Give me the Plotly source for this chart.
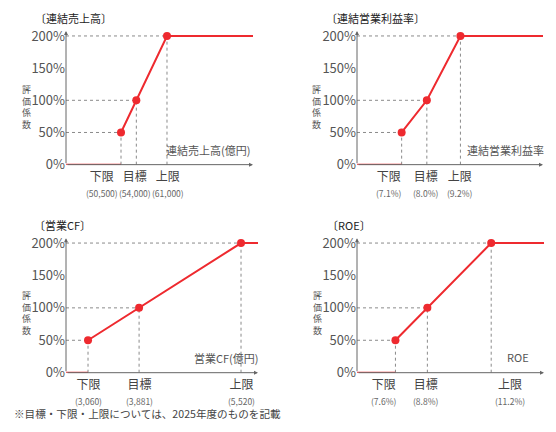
import plotly.graph_objects as go

W, H = 556, 432

# 評価係数 (%)
coef = [50, 100, 200]
tick_names = ["下限", "目標", "上限"]

sales_vals = [50500, 54000, 61000]
sales_text = ["(50,500)", "(54,000)", "(61,000)"]

margin_vals = [7.1, 8.0, 9.2]
margin_text = ["(7.1%)", "(8.0%)", "(9.2%)"]

cf_vals = [3060, 3881, 5520]
cf_text = ["(3,060)", "(3,881)", "(5,520)"]

roe_vals = [7.6, 8.8, 11.2]
roe_text = ["(7.6%)", "(8.8%)", "(11.2%)"]

y_ticks = [0, 50, 100, 150, 200]

RED = "#ee2a2f"
GRAY = "#8a8a8a"
TXT = "#555555"
FONT = "Noto Sans CJK JP"

# title, x label, values, value text, x range, x px span, y px span,
# title pos, x label pos, y title pos, label x shifts
panels = [
    ("〔連結売上高〕", "連結売上高(億円)", sales_vals, sales_text,
     [37943, 80635], (66, 253), (27, 165), (33, 13), (252, 150), (26, 105), [-19, -1, 1]),
    ("〔連結営業利益率〕", "連結営業利益率", margin_vals, margin_text,
     [5.505, 12.15], (357, 543), (27, 165), (324, 13), (546, 150), (316, 105), [-13, -1, 0]),
    ("〔営業CF〕", "営業CF(億円)", cf_vals, cf_text,
     [2706, 5793], (66, 258), (241, 380), (32, 227), (261, 365), (26, 318), [0, 0, 0]),
    ("〔ROE〕", "ROE", roe_vals, roe_text,
     [6.155, 13.185], (357, 544), (241, 380), (325, 227), (531, 364), (317, 318), [-11, -1, 19]),
]

fig = go.Figure()
annotations = []

for i, (title, xlabel, vals, vtext, xr, xpx, ypx, tpos, lpos, ytpos, shifts) in enumerate(panels):
    n = "" if i == 0 else str(i + 1)
    xa, ya = "x" + n, "y" + n
    x0, x1 = xr
    ytop = 207.5

    # dotted guide lines
    gx, gy = [], []
    for v, c in zip(vals, coef):
        gx += [x0, v, None, v, v, None]
        gy += [c, c, None, 0, c, None]
    fig.add_trace(go.Scatter(x=gx, y=gy, mode="lines", xaxis=xa, yaxis=ya,
                             line=dict(color=GRAY, width=1, dash="dot"),
                             showlegend=False, hoverinfo="skip"))

    # axes with arrows
    for ex, ey in [(x1, 0), (x0, ytop)]:
        annotations.append(dict(x=ex, y=ey, ax=x0, ay=0, xref=xa, yref=ya, axref=xa, ayref=ya,
                                showarrow=True, arrowhead=2, arrowsize=0.8, arrowwidth=1,
                                arrowcolor="#666666", text=""))

    # evaluation curve
    rx = [x0, vals[0], None] + vals + [x1]
    ry = [0, 0, None] + coef + [200]
    fig.add_trace(go.Scatter(x=rx, y=ry, mode="lines", xaxis=xa, yaxis=ya,
                             line=dict(color=RED, width=2),
                             showlegend=False, hoverinfo="skip"))
    fig.add_trace(go.Scatter(x=vals, y=coef, mode="markers", xaxis=xa, yaxis=ya,
                             marker=dict(color=RED, size=8),
                             showlegend=False, hoverinfo="skip"))

    # labels under the x axis
    for v, nm, t, s in zip(vals, tick_names, vtext, shifts):
        annotations.append(dict(
            x=v, y=0, xref=xa, yref=ya, showarrow=False, borderpad=0,
            text=f"{nm}<br><span style='font-size:8.5px;color:#666666'>{t}</span>",
            xshift=s, yshift=-18, yanchor="middle",
            font=dict(size=12, color="#444444", family=FONT)))

    fig.update_layout(**{
        "xaxis" + n: dict(domain=[xpx[0] / W, xpx[1] / W], range=xr, anchor=ya,
                          showgrid=False, zeroline=False, showline=False,
                          showticklabels=False, ticks=""),
        "yaxis" + n: dict(domain=[1 - ypx[1] / H, 1 - ypx[0] / H], range=[0, ytop],
                          anchor=xa, showgrid=False, zeroline=False, showline=False,
                          tickvals=y_ticks, ticktext=[f"{t}%" for t in y_ticks],
                          ticks="", ticklabelstandoff=0,
                          tickfont=dict(size=13, color=TXT, family=FONT)),
    })

    annotations.append(dict(x=tpos[0] / W, y=1 - tpos[1] / H, xref="paper", yref="paper",
                            text=title, showarrow=False, xanchor="left", yanchor="middle",
                            font=dict(size=11, color="#222222", family=FONT)))
    annotations.append(dict(x=lpos[0] / W, y=1 - lpos[1] / H, xref="paper", yref="paper",
                            text=xlabel, showarrow=False, xanchor="right", yanchor="middle",
                            font=dict(size=11, color=TXT, family=FONT)))
    # vertical y title, one character per line
    annotations.append(dict(x=ytpos[0] / W, y=1 - ytpos[1] / H, xref="paper", yref="paper",
                            text="<br>".join("評価係数"), showarrow=False,
                            xanchor="center", yanchor="middle",
                            font=dict(size=9, color=TXT, family=FONT)))

annotations.append(dict(x=13 / W, y=1 - 422 / H, xref="paper", yref="paper", borderpad=0,
                        text="※目標・下限・上限については、2025年度のものを記載",
                        showarrow=False, xanchor="left", yanchor="middle",
                        font=dict(size=10.6, color="#444444", family=FONT)))

fig.update_layout(width=W, height=H, margin=dict(l=0, r=0, t=0, b=0),
                  paper_bgcolor="white", plot_bgcolor="white",
                  annotations=annotations, font=dict(family=FONT))

fig.write_html("out.html", config={"displayModeBar": False},
               post_script="document.body.style.margin='0';document.body.style.overflow='hidden';")
